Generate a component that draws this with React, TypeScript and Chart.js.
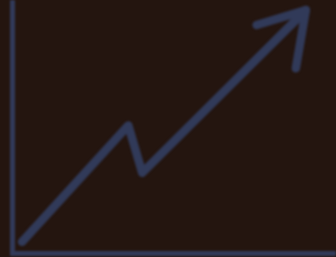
import React, { useEffect, useRef } from "react";
import { Chart, registerables } from "chart.js";

Chart.register(...registerables);

// Trend line (zigzag) in axis units 0..100
const trendX = [3.1, 35.9, 40.2, 90.7];
const trendY = [4.4, 50.4, 31.7, 96.0];
// Arrow head: left arm end, tip, lower arm end
const arrowX = [75.5, 90.7, 87.6];
const arrowY = [90.1, 96.0, 73.0];

const BG = "#24150f";
const INK = "#313a59";

export default function App() {
  const ref = useRef<HTMLCanvasElement | null>(null);
  useEffect(() => {
    document.body.style.margin = "0";
    const ctx = ref.current!;
    const pts = (xs: number[], ys: number[]) => xs.map((x, i) => ({ x, y: ys[i] }));
    const line = (xs: number[], ys: number[]) =>
      ({
        data: pts(xs, ys),
        showLine: true,
        borderColor: INK,
        borderWidth: 8.5,
        borderCapStyle: "round",
        borderJoinStyle: "round",
        pointRadius: 0,
        clip: false,
      } as any);
    const chart = new Chart(ctx, {
      type: "scatter",
      data: { datasets: [line(trendX, trendY), line(arrowX, arrowY)] },
      options: {
        responsive: false,
        animation: false,
        layout: { padding: { left: 12, bottom: 4, top: 0, right: 0 } },
        plugins: { legend: { display: false }, tooltip: { enabled: false } },
        scales: {
          x: {
            type: "linear",
            min: 0,
            max: 100,
            ticks: { display: false },
            grid: { display: false, drawTicks: false },
            border: { display: true, color: INK, width: 5 },
          },
          y: {
            type: "linear",
            min: 0,
            max: 100,
            ticks: { display: false },
            grid: { display: false, drawTicks: false },
            border: { display: true, color: INK, width: 5 },
          },
        },
      },
    });
    return () => chart.destroy();
  }, []);
  return (
    <div style={{ position: "fixed", left: 0, top: 0, width: 336, height: 257, background: BG, overflow: "hidden" }}>
      <canvas ref={ref} width={336} height={257} style={{ filter: "blur(0.8px)" }} />
    </div>
  );
}
